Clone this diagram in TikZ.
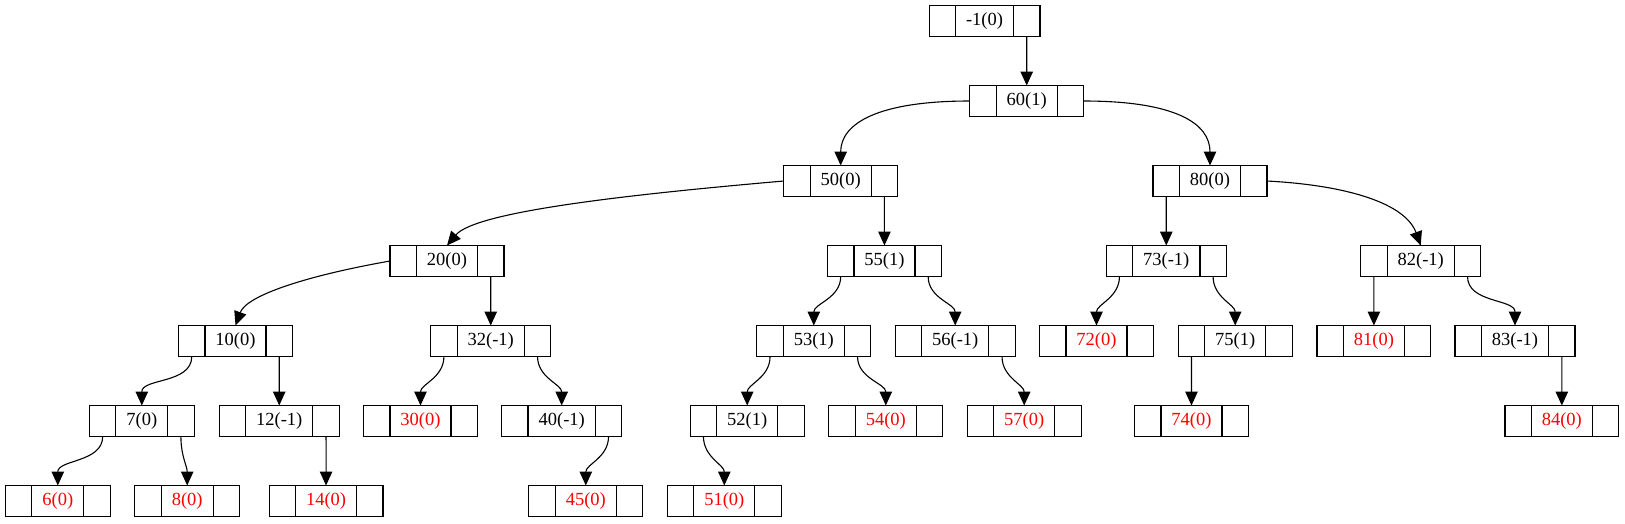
\documentclass[tikz,border=0pt]{standalone}
\usepackage{fontspec}
\setmainfont{Liberation Serif}
\usetikzlibrary{arrows.meta}
\newcommand{\avlrec}[4][black]{%
  \node[mid, text=#1] (#2) at (#3) {#4};
  \node[side, anchor=east] (#2l) at (#2.west) {};
  \node[side, anchor=west] (#2r) at (#2.east) {};}
\begin{document}
\begin{tikzpicture}[x=1pt, y=1pt,
    mid/.style={draw, line width=1.2pt, outer sep=0pt, minimum height=31pt, inner xsep=10.5pt, inner ysep=0pt, font=\fontsize{18.5}{22}\selectfont},
    side/.style={draw, line width=1.2pt, outer sep=0pt, minimum height=31pt, minimum width=26.4pt, inner sep=0pt},
    link/.style={line width=1.1pt, -{Triangle[length=14pt, width=12.5pt]}}]
    \useasboundingbox (0,0) rectangle (1625,-523);
    \avlrec{top}{984.5,-21}{-1(0)}
    \avlrec{n60}{1026.7,-101}{60(1)}
    \avlrec{n50}{840.7,-181}{50(0)}
    \avlrec{n80}{1210,-181}{80(0)}
    \avlrec{n20}{447,-261}{20(0)}
    \avlrec{n55}{884.43,-261}{55(1)}
    \avlrec{n73}{1166.27,-261}{73(-1)}
    \avlrec{n82}{1420.7,-261}{82(-1)}
    \avlrec{n10}{235.5,-341}{10(0)}
    \avlrec{n32}{490.73,-341}{32(-1)}
    \avlrec{n53}{813.8,-341}{53(1)}
    \avlrec{n56}{955.2,-341}{56(-1)}
    \avlrec[red]{n72}{1096.5,-341}{72(0)}
    \avlrec{n75}{1235.2,-341}{75(1)}
    \avlrec[red]{n81}{1373.88,-341}{81(0)}
    \avlrec{n83}{1515,-341}{83(-1)}
    \avlrec{n7}{141.8,-421}{7(0)}
    \avlrec{n12}{279.23,-421}{12(-1)}
    \avlrec[red]{n30}{420.5,-421}{30(0)}
    \avlrec{n40}{561.7,-421}{40(-1)}
    \avlrec{n52}{747.2,-421}{52(1)}
    \avlrec[red]{n54}{885.8,-421}{54(0)}
    \avlrec[red]{n57}{1024.2,-421}{57(0)}
    \avlrec[red]{n74}{1191.47,-421}{74(0)}
    \avlrec[red]{n84}{1561.82,-421}{84(0)}
    \avlrec[red]{n6}{57.8,-501}{6(0)}
    \avlrec[red]{n8}{187.2,-501}{8(0)}
    \avlrec[red]{n14}{326.05,-501}{14(0)}
    \avlrec[red]{n45}{585.8,-501}{45(0)}
    \avlrec[red]{n51}{724.3,-501}{51(0)}
    \draw[link] (n60l.west) to[out=180, in=90, out distance=92pt, in distance=42pt] (n50.north);
    \draw[link] (n60r.east) to[out=0, in=90, out distance=92pt, in distance=42pt] (n80.north);
    \draw[link] (n50l.west) to[out=185, in=50, out distance=150pt, in distance=45pt] (n20.north);
    \draw[link] (n80r.east) to[out=-3, in=110, out distance=80pt, in distance=45pt] (n82.north);
    \draw[link] (n20l.west) to[out=190, in=70, out distance=85pt, in distance=32pt] (n10.north);
    \foreach \from/\to in {topr/n60, n50r/n55, n80l/n73, n20r/n32, n55l/n53, n55r/n56, n73l/n72, n73r/n75, n82l/n81, n82r/n83, n10l/n7, n10r/n12, n32l/n30, n32r/n40, n53l/n52, n53r/n54, n56r/n57, n75l/n74, n83r/n84, n7l/n6, n7r/n8, n12r/n14, n40r/n45, n52l/n51}
        \draw[link] (\from.south) to[out=-90, in=90] (\to.north);
\end{tikzpicture}
\end{document}
